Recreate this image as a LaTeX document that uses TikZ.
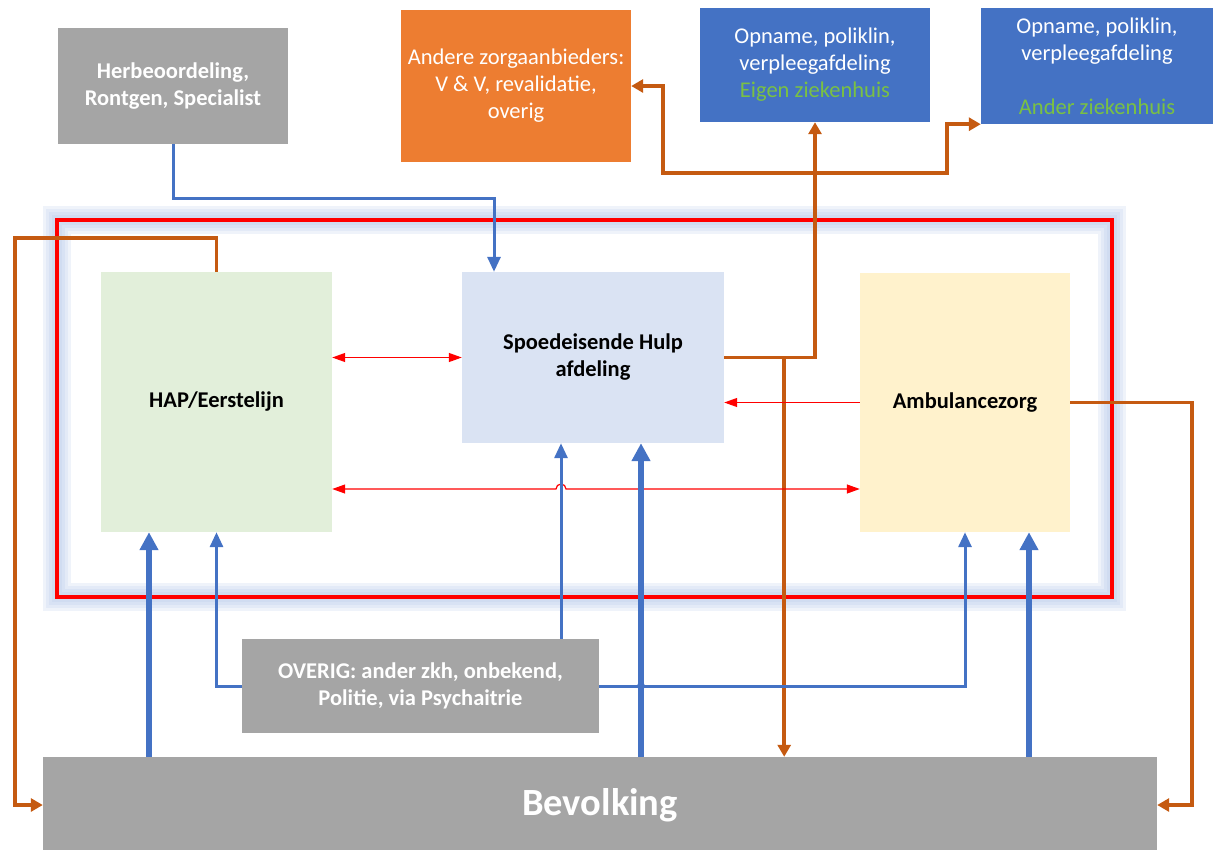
\documentclass[tikz,border=0pt]{standalone}
\usepackage{fontspec}
\setmainfont{Carlito}
\usetikzlibrary{arrows.meta,calc}

\definecolor{grijs}{HTML}{A5A5A5}
\definecolor{oranje}{HTML}{ED7D31}
\definecolor{donkeroranje}{HTML}{C55A11}
\definecolor{blauw}{HTML}{4472C4}
\definecolor{groen}{HTML}{7AC143}
\definecolor{hapkleur}{HTML}{E2EFDA}
\definecolor{sehkleur}{HTML}{DAE3F3}
\definecolor{ambkleur}{HTML}{FFF2CC}
\definecolor{gloed}{HTML}{A9BFE6}

\begin{document}
\begin{tikzpicture}[x=1pt,y=-1pt,
	vak/.style={inner sep=3pt,align=center,font=\fontsize{22.5}{27}\selectfont},
	grijsvak/.style={vak,fill=grijs,text=white,font=\fontsize{22.5}{27}\selectfont\bfseries},
	oranjevak/.style={vak,fill=oranje,text=white},
	blauwvak/.style={vak,fill=blauw,text=white},
	lichtvak/.style={vak,font=\fontsize{22.5}{27}\selectfont\bfseries},
	orpijl/.style={donkeroranje,line width=3.5pt,>={Triangle[width=13pt,length=12pt]}},
	blpijl/.style={blauw,line width=3pt,>={Triangle[width=13pt,length=15pt]}},
	bldik/.style={blauw,line width=5.5pt,>={Triangle[width=18pt,length=18pt]}},
	rdpijl/.style={red,line width=1.2pt,>={Triangle[width=9pt,length=13pt]}}]
	\useasboundingbox (0,0) rectangle (1213,849);

	% kader
	\foreach \w in {28,22,16,10} {
		\draw[gloed,line width=\w pt,opacity=.18] (57,220) rectangle (1112,597);
	}
	\draw[red,line width=4pt] (57,220) rectangle (1112,597);

	% vakken boven
	\node[grijsvak,minimum width=230pt,minimum height=116pt] (herb) at (173,86) {Herbeoordeling,\\Rontgen, Specialist};
	\node[oranjevak,minimum width=230pt,minimum height=152pt] (andere) at (516,86) {Andere zorgaanbieders:\\V \& V, revalidatie,\\overig};
	\node[blauwvak,minimum width=230pt,minimum height=114pt] (eigen) at (815,65) {Opname, poliklin,\\verpleegafdeling\\\textcolor{groen}{Eigen ziekenhuis}};
	\node[blauwvak,minimum width=232pt,minimum height=116pt] (ander) at (1097,66) {Opname, poliklin,\\verpleegafdeling\\[27pt]\textcolor{groen}{Ander ziekenhuis}};

	% vakken midden
	\node[lichtvak,fill=hapkleur,minimum width=231pt,minimum height=260pt] (hap) at (216.5,402) {HAP/Eerstelijn};
	\node[lichtvak,fill=sehkleur,minimum width=262pt,minimum height=171pt] (seh) at (593,357.5) {Spoedeisende Hulp\\afdeling};
	\node[lichtvak,fill=ambkleur,minimum width=210pt,minimum height=259pt] (amb) at (965,402.5) {Ambulancezorg};

	% vakken onder
	\node[grijsvak,minimum width=357pt,minimum height=94pt] (overig) at (420.5,686) {OVERIG: ander zkh, onbekend,\\Politie, via Psychaitrie};
	\node[grijsvak,minimum width=1114pt,minimum height=96pt,font=\fontsize{38.5}{42}\selectfont\bfseries] (bev) at (600,805) {Bevolking};

	% hulppunten
	\coordinate (h1) at ([xshift=-67.5pt]hap.south);
	\coordinate (s1) at ([xshift=-32pt]seh.south);
	\coordinate (s2) at ([xshift=48pt]seh.south);
	\coordinate (a2) at ([xshift=64pt]amb.south);
	\coordinate (knik) at ($(eigen.south)+(-1,51)$);
	\coordinate (sehuit) at ($(seh.east)+(60,0)$);
	\coordinate (r2a) at ($(hap.east)+(0,87)$);
	\coordinate (r2b) at ($(amb.west)+(0,86.5)$);

	% oranje
	\draw[orpijl,->] (hap.north) -- ++(0,-34) -| ([xshift=-28pt]bev.west) -- (bev.west);
	\draw[orpijl,->] (seh.east) -| (eigen.south);
	\draw[orpijl,->] (knik) -| ([xshift=32pt]andere.east) -- (andere.east);
	\draw[orpijl,->] (knik) -| ([xshift=-34pt]ander.south west) -- (ander.south west);
	\draw[orpijl,->] (sehuit) -- (sehuit |- bev.north);
	\draw[orpijl,->] (amb.east) -| ([xshift=35pt]bev.east) -- (bev.east);

	% rood
	\draw[rdpijl,<->] (hap.east |- seh.west) -- (seh.west);
	\draw[rdpijl,->] (amb.west) -- (seh.east |- amb.west);
	\draw[rdpijl,<->] (r2a) -- ([xshift=-5pt]s1 |- r2a) arc (180:360:5) -- (r2b);

	% blauw
	\draw[blpijl,->] (herb.south) -- ++(0,54) -| ([xshift=-99pt]seh.north);
	\draw[bldik,->] (bev.north -| h1) -- (h1);
	\draw[bldik,->] (bev.north -| s2) -- (s2);
	\draw[bldik,->] (bev.north -| a2) -- (a2);
	\draw[blpijl,->] (overig.west) -| (hap.south);
	\draw[blpijl,->] (overig.north -| s1) -- (s1);
	\draw[blpijl,->] (overig.east) -| (amb.south);
	\fill[blauw] (overig.east -| s2) circle (4);

\end{tikzpicture}
\end{document}
